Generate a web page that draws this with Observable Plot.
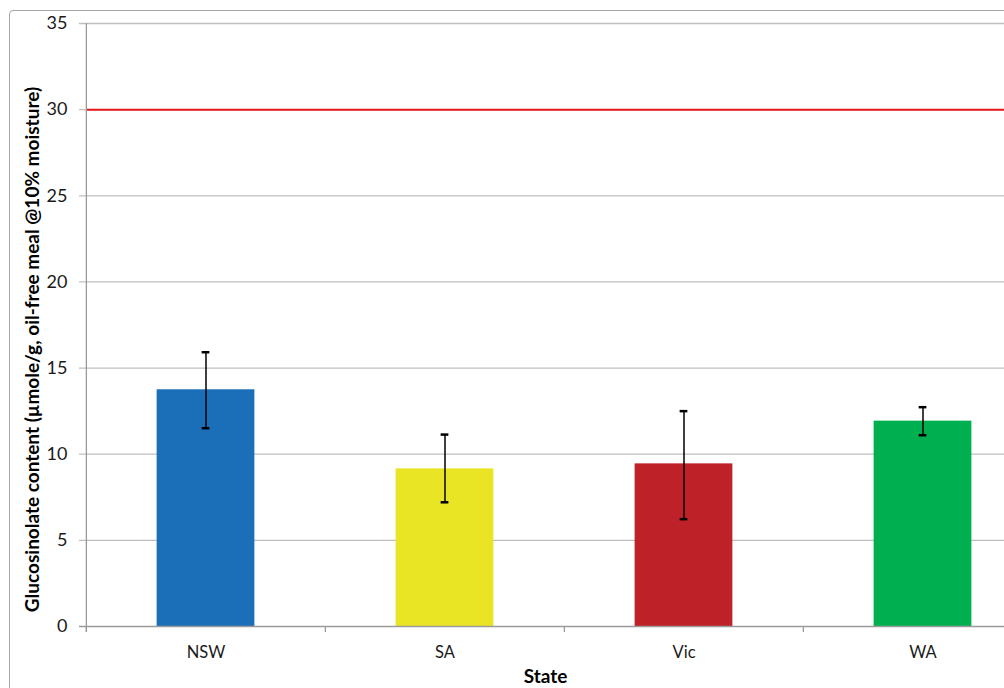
<!DOCTYPE html>
<html>
<head>
<meta charset="utf-8">
<script src="https://cdn.jsdelivr.net/npm/d3@7"></script>
<script src="https://cdn.jsdelivr.net/npm/@observablehq/plot@0.6"></script>
<style>
  html, body { margin: 0; padding: 0; background: #fff; overflow: hidden; }
  #wrap { position: relative; width: 1004px; height: 688px; }
  #frame { position: absolute; left: 9px; top: 10px; width: 1100px; height: 800px; border: 1px solid #a6a6a6; border-radius: 4px; box-sizing: border-box; }
  #chart { position: absolute; left: 0; top: 0; }
  svg { font-family: Lato, "Open Sans", sans-serif; }
</style>
</head>
<body>
<div id="wrap"><div id="frame"></div><div id="chart"></div></div>
<script>
const states = ["NSW", "SA", "Vic", "WA"];
const means = [13.74, 9.15, 9.44, 11.92];
const errLow = [11.51, 7.21, 6.23, 11.10];
const errHigh = [15.92, 11.14, 12.50, 12.73];
const colors = ["#1b6fb9", "#eae524", "#be2128", "#00b050"];
const yTicks = [0, 5, 10, 15, 20, 25, 30, 35];
const threshold = [30];
const yLabel = "Glucosinolate content (µmole/g, oil-free meal @10% moisture)";
const xLabel = "State";

const data = states.map((s, i) => ({state: s, mean: means[i], lo: errLow[i], hi: errHigh[i], color: colors[i]}));

const W = 1004, H = 688;
const mL = 86, mT = 23, mB = 62;
const xRange = [85.5, 1042.5];
const step = (xRange[1] - xRange[0]) / states.length;
const barW = 98;
const barInset = (step - barW) / 2;
const capInset = (step - 8) / 2;

const chart = Plot.plot({
  width: W,
  height: H,
  marginLeft: mL,
  marginTop: mT,
  marginBottom: mB,
  marginRight: 0,
  x: {domain: states, range: xRange, padding: 0, label: null},
  y: {domain: [0, 35], label: null},
  style: {fontFamily: "Lato, 'Open Sans', sans-serif", background: "transparent"},
  marks: [
    Plot.ruleY(yTicks.filter(d => d > 0), {stroke: "#bfbfbf", strokeWidth: 1.3, insetLeft: -7}),
    Plot.ruleX(states, {x: d => d, y1: 0, y2: 0, dx: -step / 2, insetBottom: -6, stroke: "#9a9a9a", strokeWidth: 1.3}),
    Plot.barY(data, {x: "state", y: "mean", fill: "color", insetLeft: barInset, insetRight: barInset}),
    Plot.ruleY(threshold, {stroke: "#e8161b", strokeWidth: 2}),
    Plot.ruleX(data, {x: "state", y1: "lo", y2: "hi", stroke: "#000", strokeWidth: 1.5}),
    Plot.tickY(data, {x: "state", y: "lo", stroke: "#000", strokeWidth: 2.5, insetLeft: capInset, insetRight: capInset}),
    Plot.tickY(data, {x: "state", y: "hi", stroke: "#000", strokeWidth: 2.5, insetLeft: capInset, insetRight: capInset}),
    Plot.ruleY([0], {stroke: "#9a9a9a", strokeWidth: 1.3, insetLeft: -7}),
    Plot.ruleX([states[0]], {y1: 35, y2: 0, dx: -step / 2, insetBottom: -6, stroke: "#9a9a9a", strokeWidth: 1.3}),
    Plot.axisY({ticks: yTicks, tickSize: 0, tickPadding: 19, fontSize: 18, fill: "#1a1a1a", label: null}),
    Plot.axisX({tickSize: 0, tickPadding: 20, fontSize: 16.5, fill: "#1a1a1a", label: null}),
    Plot.text([yLabel], {frameAnchor: "left", text: d => d, textAnchor: "middle", rotate: -90, dx: -54, dy: 24.5, fontSize: 19, fontWeight: "bold", fill: "#000"}),
    Plot.text([xLabel], {frameAnchor: "bottom", text: d => d, textAnchor: "middle", dy: 56, fontSize: 19, fontWeight: "bold", fill: "#000"})
  ]
});
document.getElementById("chart").appendChild(chart);
</script>
</body>
</html>
